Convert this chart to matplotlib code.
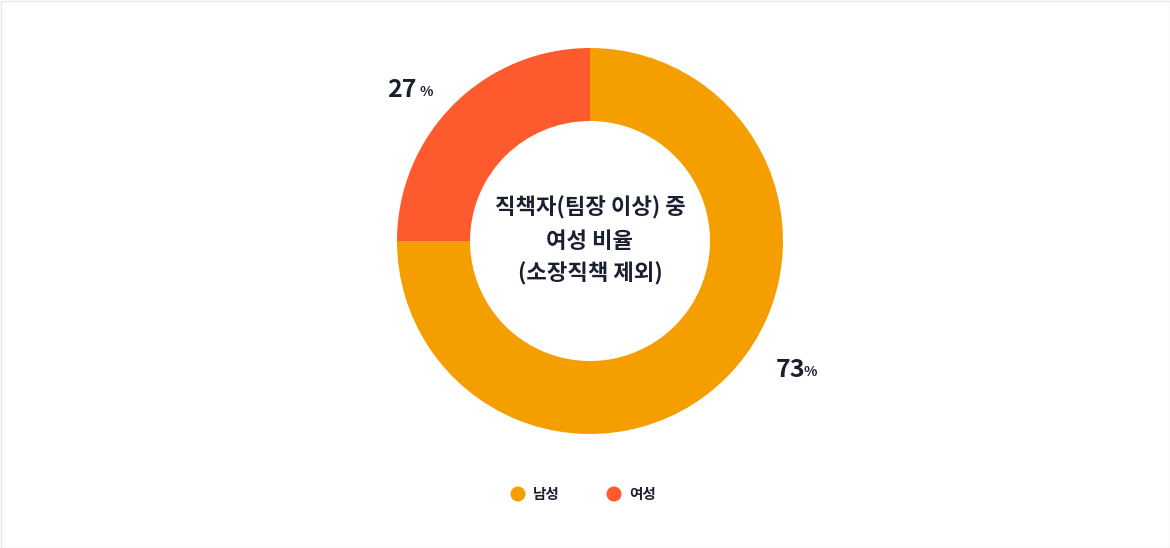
import matplotlib
matplotlib.use("Agg")
import matplotlib.pyplot as plt
import matplotlib.patches as mpatches

plt.rcParams['font.family'] = ['Noto Sans CJK KR', 'DejaVu Sans']

labels = ['남성', '여성']
# shown percentages
pct_labels = [73, 27]
# slice sizes as drawn in the picture (boundary sits at 9 o'clock)
slice_values = [75, 25]
colors = ['#F59E00', '#FF5A2E']
title_lines = ['직책자(팀장 이상) 중', '여성 비율', '(소장직책 제외)']

W, H = 1170, 548
fig = plt.figure(figsize=(W / 100, H / 100), dpi=100)
ax = fig.add_axes([0, 0, 1, 1])

cx, cy = 590, H - 241
r_out, r_in = 193, 120

ax.pie(slice_values, colors=colors, startangle=90, counterclock=False,
       center=(cx, cy), radius=r_out,
       wedgeprops=dict(width=r_out - r_in, linewidth=0))

ax.set_xlim(0, W)
ax.set_ylim(0, H)
ax.set_aspect('equal')
ax.axis('off')

# frame
ax.add_patch(mpatches.Rectangle((0.5, 0.5), W - 1, H - 1, fill=False,
                                edgecolor='#e6e6e6', linewidth=1))

dark = '#1b2030'
# center title
for i, line in enumerate(title_lines):
    ax.text(cx, H - (208 + 33 * i), line, ha='center', va='center',
            fontsize=16, fontweight='bold', color=dark)

# percentage labels
ax.text(417, H - 90, f'{pct_labels[1]}', ha='right', va='center',
        fontsize=18, fontweight='bold', color=dark)
ax.text(419, H - 92, '%', ha='left', va='center',
        fontsize=10, fontweight='bold', color=dark)
ax.text(805, H - 370, f'{pct_labels[0]}', ha='right', va='center',
        fontsize=18, fontweight='bold', color=dark)
ax.text(803, H - 372, '%', ha='left', va='center',
        fontsize=10, fontweight='bold', color=dark)

# legend
leg_x = [518, 614]
for x, lab, c in zip(leg_x, labels, colors):
    ax.add_patch(mpatches.Circle((x, H - 494), 7.5, color=c, linewidth=0))
    ax.text(x + 15, H - 494, lab, ha='left', va='center',
            fontsize=10.5, fontweight='bold', color=dark)

fig.savefig('out.png', dpi=100)
